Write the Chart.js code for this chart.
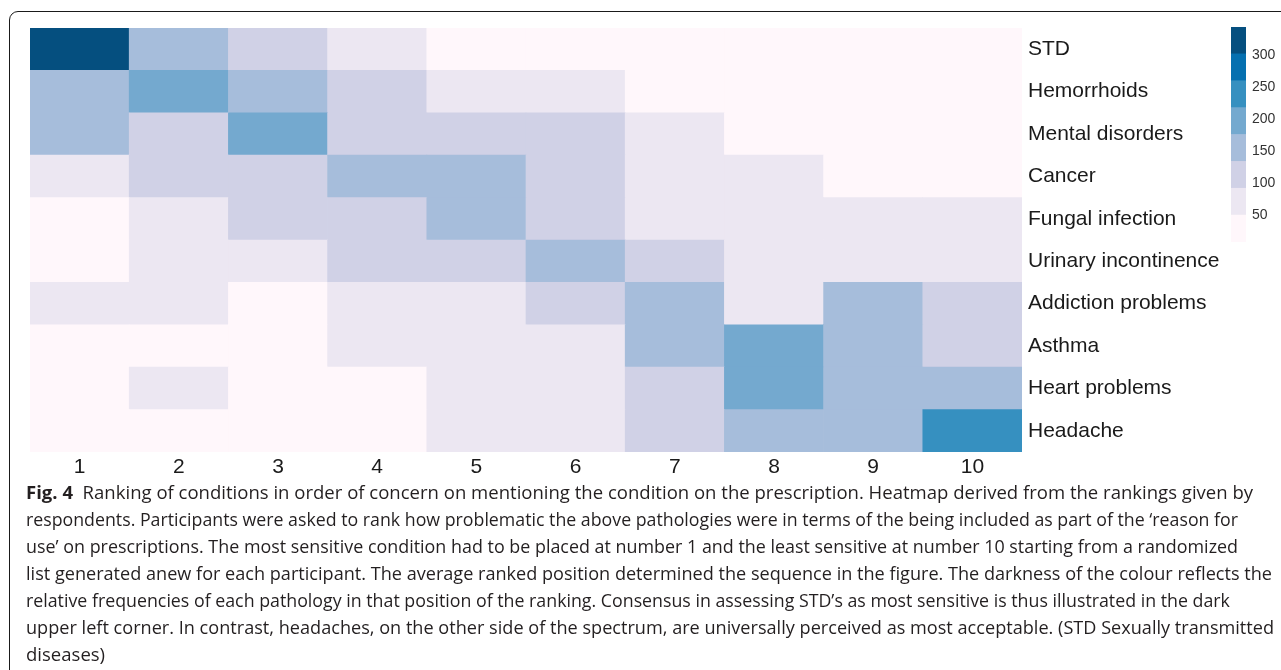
<!DOCTYPE html>
<html lang="en">
<head>
<meta charset="UTF-8">
<title>Fig. 4 heatmap</title>
<script src="https://cdn.jsdelivr.net/npm/chart.js@4.4.0/dist/chart.umd.min.js"></script>
<style>
  body { margin: 0; background: #fff; width: 1281px; height: 670px; overflow: hidden; position: relative; }
  #frame { position: absolute; left: 9px; top: 11px; width: 1320px; height: 720px;
           border: 1.5px solid #1a1a1a; border-top-left-radius: 9px; box-sizing: border-box; }
  #heat { position: absolute; left: 0; top: 0; }
  #bar { position: absolute; left: 1200px; top: 0; }
  #caption { position: absolute; left: 26px; top: 479px; color: #231f20;
             font-family: "Open Sans", "Noto Sans", sans-serif; font-size: 17.5px; white-space: nowrap; }
  #caption div { height: 27px; line-height: 27px; }
  #caption span { display: inline-block; transform-origin: 0 50%; }
</style>
</head>
<body>
<div id="frame"></div>
<canvas id="heat" width="1225" height="480"></canvas>
<canvas id="bar" width="81" height="260"></canvas>
<div id="caption">
  <div><span><b>Fig. 4</b>&nbsp; Ranking of conditions in order of concern on mentioning the condition on the prescription. Heatmap derived from the rankings given by</span></div>
  <div><span>respondents. Participants were asked to rank how problematic the above pathologies were in terms of the being included as part of the ‘reason for</span></div>
  <div><span>use’ on prescriptions. The most sensitive condition had to be placed at number 1 and the least sensitive at number 10 starting from a randomized</span></div>
  <div><span>list generated anew for each participant. The average ranked position determined the sequence in the figure. The darkness of the colour reflects the</span></div>
  <div><span>relative frequencies of each pathology in that position of the ranking. Consensus in assessing STD’s as most sensitive is thus illustrated in the dark</span></div>
  <div><span>upper left corner. In contrast, headaches, on the other side of the spectrum, are universally perceived as most acceptable. (STD Sexually transmitted</span></div>
  <div><span>diseases)</span></div>
</div>
<script>
// conditions top to bottom, ranks left to right
var conditions = ["STD", "Hemorrhoids", "Mental disorders", "Cancer", "Fungal infection",
                  "Urinary incontinence", "Addiction problems", "Asthma", "Heart problems", "Headache"]
var ranks = ["1", "2", "3", "4", "5", "6", "7", "8", "9", "10"]

var stdCounts        = [343, 160, 115,  70,  25,  20,  15,  12,  10,   9]
var hemorrhoidCounts = [150, 200, 145, 110,  75,  65,  40,  30,  20,  15]
var mentalCounts     = [145, 120, 205, 115, 105,  95,  60,  45,  35,  25]
var cancerCounts     = [ 70, 115, 120, 150, 145, 110,  70,  55,  40,  30]
var fungalCounts     = [ 30,  80, 110, 120, 155, 130,  85,  70,  60,  55]
var urinaryCounts    = [ 25,  65,  75, 105, 115, 150, 100,  85,  75,  65]
var addictionCounts  = [ 60,  55,  40,  75,  85, 105, 140,  80, 140, 115]
var asthmaCounts     = [ 20,  30,  35,  60,  70,  80, 145, 195, 150, 120]
var heartCounts      = [ 15,  55,  25,  30,  60,  70, 125, 185, 165, 145]
var headacheCounts   = [ 10,  15,  20,  25,  55,  60, 110, 150, 160, 235]
var counts = [stdCounts, hemorrhoidCounts, mentalCounts, cancerCounts, fungalCounts,
              urinaryCounts, addictionCounts, asthmaCounts, heartCounts, headacheCounts]

// colour bins of the legend bar
var binEdges = [9, 50.75, 92.5, 134.25, 176, 217.75, 259.5, 301.25, 343]
var binColors = ["#fff7fb", "#ece7f2", "#d0d1e6", "#a6bddb", "#74a9cf", "#3690c0", "#0570b0", "#054f7f"]
var legendTicks = [50, 100, 150, 200, 250, 300]

function colorFor(v) {
    for (var i = 0; i < binColors.length; i++) {
        if (v < binEdges[i + 1]) return binColors[i]
    }
    return binColors[binColors.length - 1]
}

Chart.defaults.animation = false
Chart.defaults.font.family = '"Liberation Sans", Arial, sans-serif'
Chart.defaults.color = "#1a1a1a"

// stacked bars, one dataset per condition, bottom row first
var heatSets = []
for (var r = conditions.length - 1; r >= 0; r--) {
    heatSets.push({
        label: conditions[r],
        data: ranks.map(function () { return 1 }),
        backgroundColor: counts[r].map(colorFor),
        borderWidth: 0,
        barPercentage: 1,
        categoryPercentage: 1
    })
}

new Chart(document.getElementById("heat"), {
    type: "bar",
    data: { labels: ranks, datasets: heatSets },
    options: {
        responsive: false,
        layout: { padding: { left: 30, top: 28, right: 0, bottom: 0 } },
        plugins: { legend: { display: false }, tooltip: { enabled: false } },
        scales: {
            x: {
                stacked: true,
                grid: { display: false, drawTicks: false },
                border: { display: false },
                ticks: { font: { size: 21 }, padding: 3, maxRotation: 0 },
                afterFit: function (s) { s.height = 28 }
            },
            y: {
                stacked: true,
                position: "right",
                min: 0, max: 10,
                grid: { display: false, drawTicks: false },
                border: { display: false },
                afterBuildTicks: function (s) {
                    s.ticks = conditions.map(function (c, i) { return { value: 9.5 - i } })
                },
                ticks: {
                    font: { size: 21 }, padding: 6,
                    callback: function (v) { return conditions[Math.round(9.5 - v)] }
                },
                afterFit: function (s) { s.width = 203 }
            }
        }
    }
})

// legend colour bar
var barSets = binColors.map(function (c, i) {
    return {
        data: [[binEdges[i], binEdges[i + 1]]],
        backgroundColor: c,
        borderWidth: 0,
        grouped: false,
        barPercentage: 1,
        categoryPercentage: 1
    }
})

new Chart(document.getElementById("bar"), {
    type: "bar",
    data: { labels: [""], datasets: barSets },
    options: {
        responsive: false,
        layout: { padding: { left: 31, top: 27, right: 0, bottom: 18 } },
        plugins: { legend: { display: false }, tooltip: { enabled: false } },
        scales: {
            x: { display: false },
            y: {
                position: "right",
                min: binEdges[0], max: binEdges[binEdges.length - 1],
                grid: { display: false, drawTicks: false },
                border: { display: false },
                afterBuildTicks: function (s) {
                    s.ticks = legendTicks.map(function (v) { return { value: v } })
                },
                ticks: { font: { size: 14 }, color: "#333", padding: 6 },
                afterFit: function (s) { s.width = 35 }
            }
        }
    }
})

// squeeze each caption line to the width it has in the figure
var lineWidths = [1227, 1212, 1212, 1246, 1204, 1248]
var spans = document.querySelectorAll("#caption span")
var firstScale = 1
lineWidths.forEach(function (tw, i) {
    var s = tw / spans[i].getBoundingClientRect().width
    if (i == 0) firstScale = s
    spans[i].style.transform = "scaleX(" + s.toFixed(4) + ")"
})
spans[6].style.transform = "scaleX(" + firstScale.toFixed(4) + ")"
</script>
</body>
</html>
